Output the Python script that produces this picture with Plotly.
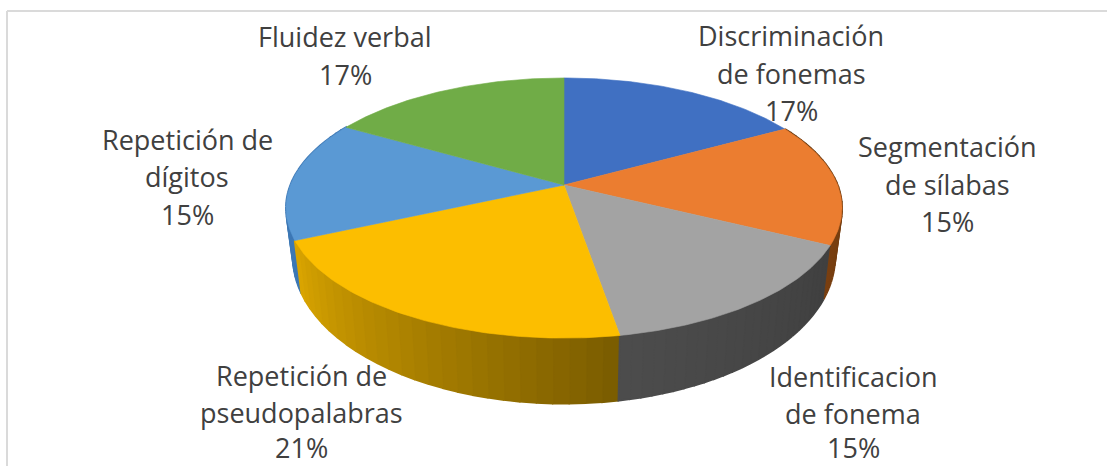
import numpy as np
import plotly.graph_objects as go

# Data
categories = ["Discriminación de fonemas", "Segmentación de sílabas", "Identificacion de fonema",
              "Repetición de pseudopalabras", "Repetición de dígitos", "Fluidez verbal"]
shares = [17.0, 15.3, 15.0, 21.0, 15.0, 16.7]
label_lines = [["Discriminación", "de fonemas", "17%"],
               ["Segmentación", "de sílabas", "15%"],
               ["Identificacion", "de fonema", "15%"],
               ["Repetición de", "pseudopalabras", "21%"],
               ["Repetición de", "dígitos", "15%"],
               ["Fluidez verbal", "17%"]]
# Style
top_colors = ["#4070C2", "#EB7D30", "#A3A3A3", "#FCBE00", "#5A99D4", "#70AC47"]
wall_start = ["#2b4a80", "#6a3a10", "#404040", "#7a5c00", "#3d78b5", "#4a7030"]
wall_end   = ["#2b4a80", "#7a4010", "#4d4d4d", "#dba600", "#3d78b5", "#4a7030"]
label_anchor = [(791, [35, 73, 110]), (947, [146, 184, 221]), (853, [376, 413, 447]),
                (301, [375, 412, 447]), (187, [139, 176, 214]), (345, [36, 74])]

W, H = 1107, 466
CX, CY, R, RY, K = 564, 185, 273.6, 126, 0.177
CY2, R2, RY2 = 231, 266.8, 142


def rim(t, cy, r, ry):
    d = 1 + K * np.cos(t)
    return CX + r * np.sin(t) / d, cy - ry * np.cos(t) / d


def hex_rgb(c):
    return np.array([int(c[i:i + 2], 16) for i in (1, 3, 5)], float)


def mix(a, b, f):
    v = hex_rgb(a) * (1 - f) + hex_rgb(b) * f
    return "rgb(%d,%d,%d)" % tuple(v)


edges = np.radians(np.cumsum([0] + shares) * 360 / sum(shares))
fig = go.Figure()


def poly(x, y, color, lw=0.6):
    fig.add_trace(go.Scatter(x=x, y=y, fill="toself", fillcolor=color, mode="lines",
                             line=dict(color=color, width=lw), hoverinfo="skip", showlegend=False))


# Side wall, strips painted with a horizontal shade, drawn only on the slices facing the viewer
for i in (1, 4, 3, 2):
    n = 26
    ts = np.linspace(edges[i], edges[i + 1], n + 1)
    for j in range(n):
        a = np.linspace(ts[j], ts[j + 1], 4)
        xt, yt = rim(a, CY, R, RY)
        xb, yb = rim(a, CY2, R2, RY2)
        poly(list(xt) + list(xb[::-1]), list(yt) + list(yb[::-1]),
             mix(wall_start[i], wall_end[i], (j + .5) / n), 2)

# Top face
for i in range(len(shares)):
    a = np.linspace(edges[i], edges[i + 1], 80)
    x, y = rim(a, CY, R, RY)
    poly([CX] + list(x) + [CX], [CY] + list(y) + [CY], top_colors[i])

# Labels
annotations = []
for lines, (xc, ys) in zip(label_lines, label_anchor):
    for text, yc in zip(lines, ys):
        annotations.append(dict(x=xc, y=yc, text=text, showarrow=False, xanchor="center", yanchor="middle",
                                font=dict(family="Open Sans", size=27, color="#404040")))

fig.update_layout(
    width=W, height=H, margin=dict(l=0, r=0, t=0, b=0), paper_bgcolor="white", plot_bgcolor="white",
    xaxis=dict(range=[0, W], visible=False, fixedrange=True),
    yaxis=dict(range=[H, 0], visible=False, fixedrange=True),
    annotations=annotations, showlegend=False,
    shapes=[dict(type="line", x0=7, x1=W, y0=11, y1=11, line=dict(color="#DADADA", width=2)),
            dict(type="line", x0=7, x1=7, y0=11, y1=H, line=dict(color="#DADADA", width=2))],
)
fig.write_html("out.html", config={"displayModeBar": False},
               post_script="document.body.style.margin='0';document.body.style.overflow='hidden';")
